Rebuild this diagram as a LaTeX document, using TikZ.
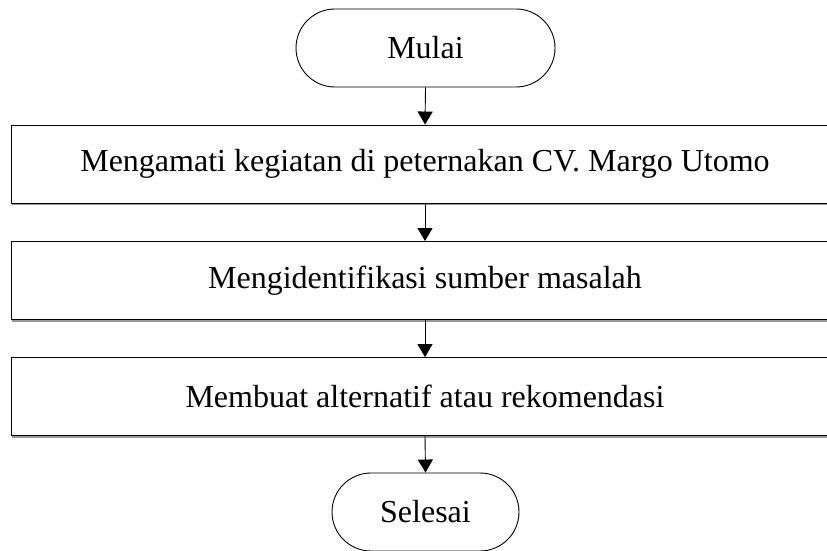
\documentclass[tikz,border=0pt]{standalone}
\usepackage{fontspec}
\setmainfont{Liberation Serif}
\usetikzlibrary{shapes.misc,arrows.meta}
\tikzset{
  terminal/.style={draw, line width=0.9pt, rounded rectangle, minimum height=78pt, inner sep=0pt, font=\fontsize{32}{38}\selectfont},
  procbox/.style={draw, line width=0.9pt, rectangle, minimum width=828pt, minimum height=78pt, inner sep=0pt, font=\fontsize{32}{38}\selectfont},
  flow/.style={line width=0.9pt, -{Triangle[width=15pt,length=13pt]}},
  shadowline/.style={line width=1.3pt, gray!80}
}
\begin{document}
\begin{tikzpicture}[x=1pt,y=1pt]
\useasboundingbox (0,0) rectangle (827,550);
\clip (0,0) rectangle (827,550);
\node[terminal, minimum width=259pt] (start) at (425.5,502) {Mulai};
\node[procbox] (b1) at (425,386) {Mengamati kegiatan di peternakan CV. Margo Utomo};
\node[procbox] (b2) at (425,269.5) {Mengidentifikasi sumber masalah};
\node[procbox] (b3) at (425,153.5) {Membuat alternatif atau rekomendasi};
\node[terminal, minimum width=187pt] (end) at (425.5,38) {Selesai};
\foreach \b in {b1,b2,b3}{
  \draw[shadowline] ([xshift=1pt,yshift=-1pt]\b.south west) -- ([yshift=-1pt]\b.south east);
}
\draw[flow] (start.south) -- (b1.north);
\draw[flow] (b1.south) -- (b2.north);
\draw[flow] (b2.south) -- (b3.north);
\draw[flow] (b3.south) -- (end.north);
\end{tikzpicture}
\end{document}
